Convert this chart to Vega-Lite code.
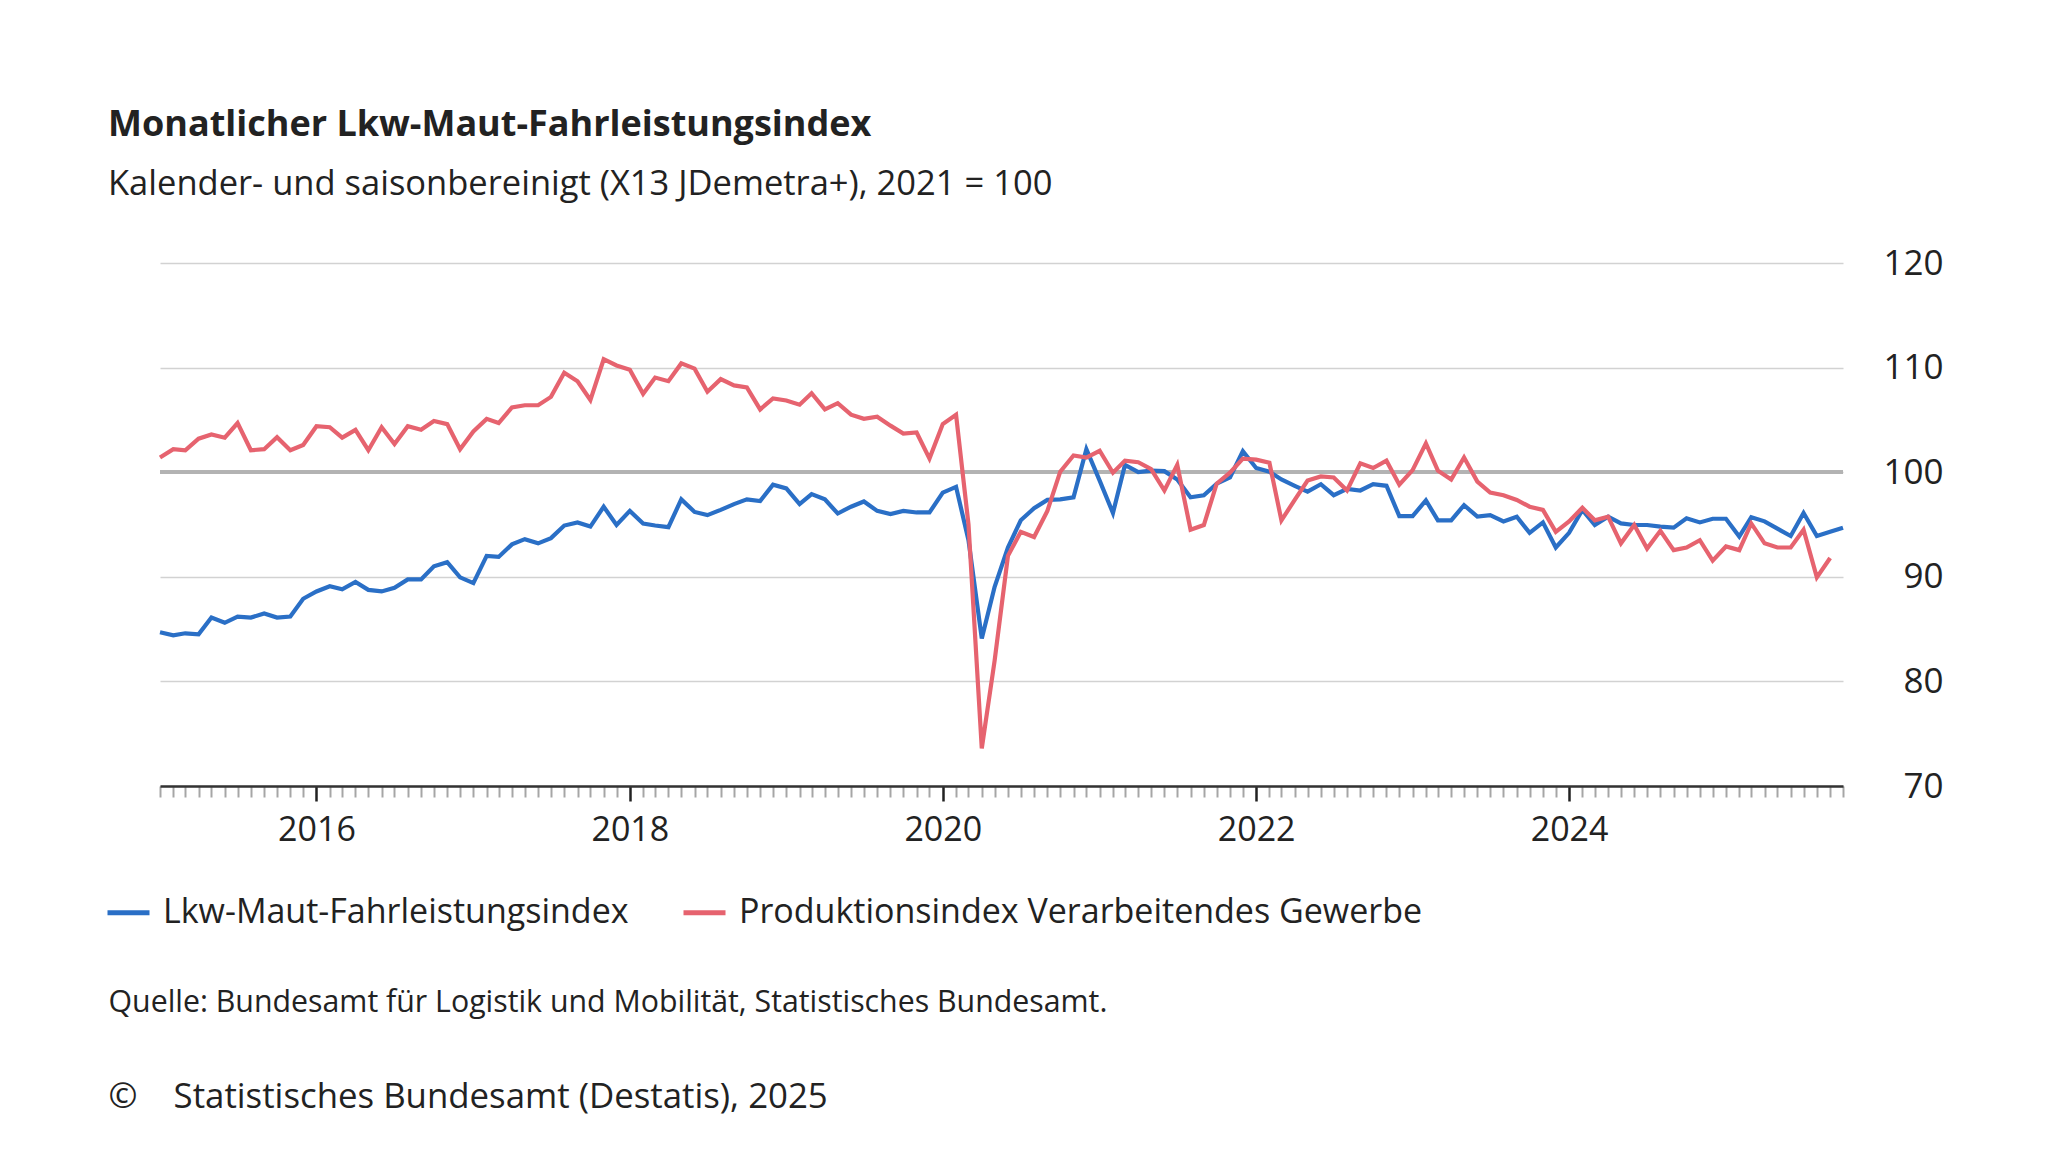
{
  "$schema": "https://vega.github.io/schema/vega-lite/v6.json",
  "width": 1683,
  "height": 523,
  "autosize": {"type": "none"},
  "padding": {"left": 160, "top": 263, "right": 205, "bottom": 366},
  "background": "white",
  "config": {"font": "Open Sans", "view": {"stroke": null}},
  "title": {
    "text": "Monatlicher Lkw-Maut-Fahrleistungsindex",
    "subtitle": "Kalender- und saisonbereinigt (X13 JDemetra+), 2021 = 100",
    "anchor": "start", "frame": "group", "dx": -52, "offset": 44,
    "font": "Open Sans", "fontSize": 36, "fontWeight": "bold", "color": "#222222",
    "subtitleFont": "Open Sans", "subtitleFontSize": 34.5, "subtitleColor": "#222222", "subtitlePadding": 24
  },
  "data": {"values": [
    {"Monat": "2015-01-01", "Lkw": 84.7, "Prod": 101.4},
    {"Monat": "2015-02-01", "Lkw": 84.4, "Prod": 102.2},
    {"Monat": "2015-03-01", "Lkw": 84.6, "Prod": 102.1},
    {"Monat": "2015-04-01", "Lkw": 84.5, "Prod": 103.2},
    {"Monat": "2015-05-01", "Lkw": 86.1, "Prod": 103.6},
    {"Monat": "2015-06-01", "Lkw": 85.6, "Prod": 103.3},
    {"Monat": "2015-07-01", "Lkw": 86.2, "Prod": 104.7},
    {"Monat": "2015-08-01", "Lkw": 86.1, "Prod": 102.1},
    {"Monat": "2015-09-01", "Lkw": 86.5, "Prod": 102.2},
    {"Monat": "2015-10-01", "Lkw": 86.1, "Prod": 103.35},
    {"Monat": "2015-11-01", "Lkw": 86.2, "Prod": 102.1},
    {"Monat": "2015-12-01", "Lkw": 87.9, "Prod": 102.6},
    {"Monat": "2016-01-01", "Lkw": 88.6, "Prod": 104.4},
    {"Monat": "2016-02-01", "Lkw": 89.1, "Prod": 104.3},
    {"Monat": "2016-03-01", "Lkw": 88.8, "Prod": 103.3},
    {"Monat": "2016-04-01", "Lkw": 89.5, "Prod": 104.05},
    {"Monat": "2016-05-01", "Lkw": 88.75, "Prod": 102.1},
    {"Monat": "2016-06-01", "Lkw": 88.6, "Prod": 104.3},
    {"Monat": "2016-07-01", "Lkw": 88.95, "Prod": 102.7},
    {"Monat": "2016-08-01", "Lkw": 89.75, "Prod": 104.4},
    {"Monat": "2016-09-01", "Lkw": 89.75, "Prod": 104.05},
    {"Monat": "2016-10-01", "Lkw": 91.0, "Prod": 104.9},
    {"Monat": "2016-11-01", "Lkw": 91.4, "Prod": 104.6},
    {"Monat": "2016-12-01", "Lkw": 89.95, "Prod": 102.2},
    {"Monat": "2017-01-01", "Lkw": 89.4, "Prod": 103.9},
    {"Monat": "2017-02-01", "Lkw": 92.0, "Prod": 105.1},
    {"Monat": "2017-03-01", "Lkw": 91.9, "Prod": 104.7},
    {"Monat": "2017-04-01", "Lkw": 93.1, "Prod": 106.2},
    {"Monat": "2017-05-01", "Lkw": 93.6, "Prod": 106.4},
    {"Monat": "2017-06-01", "Lkw": 93.2, "Prod": 106.4},
    {"Monat": "2017-07-01", "Lkw": 93.7, "Prod": 107.2},
    {"Monat": "2017-08-01", "Lkw": 94.9, "Prod": 109.5},
    {"Monat": "2017-09-01", "Lkw": 95.2, "Prod": 108.7},
    {"Monat": "2017-10-01", "Lkw": 94.8, "Prod": 106.9},
    {"Monat": "2017-11-01", "Lkw": 96.7, "Prod": 110.8},
    {"Monat": "2017-12-01", "Lkw": 94.95, "Prod": 110.2},
    {"Monat": "2018-01-01", "Lkw": 96.3, "Prod": 109.8},
    {"Monat": "2018-02-01", "Lkw": 95.1, "Prod": 107.5},
    {"Monat": "2018-03-01", "Lkw": 94.9, "Prod": 109.05},
    {"Monat": "2018-04-01", "Lkw": 94.75, "Prod": 108.7},
    {"Monat": "2018-05-01", "Lkw": 97.4, "Prod": 110.4},
    {"Monat": "2018-06-01", "Lkw": 96.2, "Prod": 109.9},
    {"Monat": "2018-07-01", "Lkw": 95.9, "Prod": 107.7},
    {"Monat": "2018-08-01", "Lkw": 96.4, "Prod": 108.9},
    {"Monat": "2018-09-01", "Lkw": 96.95, "Prod": 108.3},
    {"Monat": "2018-10-01", "Lkw": 97.4, "Prod": 108.1},
    {"Monat": "2018-11-01", "Lkw": 97.25, "Prod": 106.0},
    {"Monat": "2018-12-01", "Lkw": 98.8, "Prod": 107.05},
    {"Monat": "2019-01-01", "Lkw": 98.45, "Prod": 106.85},
    {"Monat": "2019-02-01", "Lkw": 96.95, "Prod": 106.45},
    {"Monat": "2019-03-01", "Lkw": 97.9, "Prod": 107.55},
    {"Monat": "2019-04-01", "Lkw": 97.4, "Prod": 106.0},
    {"Monat": "2019-05-01", "Lkw": 96.05, "Prod": 106.6},
    {"Monat": "2019-06-01", "Lkw": 96.7, "Prod": 105.5},
    {"Monat": "2019-07-01", "Lkw": 97.2, "Prod": 105.1},
    {"Monat": "2019-08-01", "Lkw": 96.3, "Prod": 105.3},
    {"Monat": "2019-09-01", "Lkw": 96.0, "Prod": 104.45},
    {"Monat": "2019-10-01", "Lkw": 96.3, "Prod": 103.7},
    {"Monat": "2019-11-01", "Lkw": 96.15, "Prod": 103.8},
    {"Monat": "2019-12-01", "Lkw": 96.15, "Prod": 101.3},
    {"Monat": "2020-01-01", "Lkw": 98.05, "Prod": 104.6},
    {"Monat": "2020-02-01", "Lkw": 98.6, "Prod": 105.5},
    {"Monat": "2020-03-01", "Lkw": 93.5, "Prod": 95.0},
    {"Monat": "2020-04-01", "Lkw": 84.1, "Prod": 73.6},
    {"Monat": "2020-05-01", "Lkw": 89.05, "Prod": 82.0},
    {"Monat": "2020-06-01", "Lkw": 92.8, "Prod": 92.0},
    {"Monat": "2020-07-01", "Lkw": 95.4, "Prod": 94.3},
    {"Monat": "2020-08-01", "Lkw": 96.55, "Prod": 93.8},
    {"Monat": "2020-09-01", "Lkw": 97.35, "Prod": 96.3},
    {"Monat": "2020-10-01", "Lkw": 97.4, "Prod": 100.05},
    {"Monat": "2020-11-01", "Lkw": 97.6, "Prod": 101.6},
    {"Monat": "2020-12-01", "Lkw": 102.2, "Prod": 101.4},
    {"Monat": "2021-01-01", "Lkw": 99.2, "Prod": 102.05},
    {"Monat": "2021-02-01", "Lkw": 96.1, "Prod": 99.95},
    {"Monat": "2021-03-01", "Lkw": 100.7, "Prod": 101.1},
    {"Monat": "2021-04-01", "Lkw": 100.0, "Prod": 100.95},
    {"Monat": "2021-05-01", "Lkw": 100.15, "Prod": 100.3},
    {"Monat": "2021-06-01", "Lkw": 100.1, "Prod": 98.25},
    {"Monat": "2021-07-01", "Lkw": 99.3, "Prod": 100.7},
    {"Monat": "2021-08-01", "Lkw": 97.6, "Prod": 94.5},
    {"Monat": "2021-09-01", "Lkw": 97.8, "Prod": 94.95},
    {"Monat": "2021-10-01", "Lkw": 98.9, "Prod": 98.9},
    {"Monat": "2021-11-01", "Lkw": 99.5, "Prod": 99.95},
    {"Monat": "2021-12-01", "Lkw": 102.0, "Prod": 101.3},
    {"Monat": "2022-01-01", "Lkw": 100.4, "Prod": 101.2},
    {"Monat": "2022-02-01", "Lkw": 100.05, "Prod": 100.9},
    {"Monat": "2022-03-01", "Lkw": 99.3, "Prod": 95.4},
    {"Monat": "2022-04-01", "Lkw": 98.7, "Prod": 97.35},
    {"Monat": "2022-05-01", "Lkw": 98.15, "Prod": 99.2},
    {"Monat": "2022-06-01", "Lkw": 98.85, "Prod": 99.6},
    {"Monat": "2022-07-01", "Lkw": 97.8, "Prod": 99.5},
    {"Monat": "2022-08-01", "Lkw": 98.4, "Prod": 98.25},
    {"Monat": "2022-09-01", "Lkw": 98.25, "Prod": 100.85},
    {"Monat": "2022-10-01", "Lkw": 98.85, "Prod": 100.4},
    {"Monat": "2022-11-01", "Lkw": 98.7, "Prod": 101.1},
    {"Monat": "2022-12-01", "Lkw": 95.8, "Prod": 98.8},
    {"Monat": "2023-01-01", "Lkw": 95.8, "Prod": 100.2},
    {"Monat": "2023-02-01", "Lkw": 97.3, "Prod": 102.75},
    {"Monat": "2023-03-01", "Lkw": 95.4, "Prod": 100.15},
    {"Monat": "2023-04-01", "Lkw": 95.4, "Prod": 99.3},
    {"Monat": "2023-05-01", "Lkw": 96.85, "Prod": 101.4},
    {"Monat": "2023-06-01", "Lkw": 95.75, "Prod": 99.1},
    {"Monat": "2023-07-01", "Lkw": 95.9, "Prod": 98.05},
    {"Monat": "2023-08-01", "Lkw": 95.3, "Prod": 97.8},
    {"Monat": "2023-09-01", "Lkw": 95.75, "Prod": 97.35},
    {"Monat": "2023-10-01", "Lkw": 94.2, "Prod": 96.7},
    {"Monat": "2023-11-01", "Lkw": 95.2, "Prod": 96.4},
    {"Monat": "2023-12-01", "Lkw": 92.8, "Prod": 94.3},
    {"Monat": "2024-01-01", "Lkw": 94.2, "Prod": 95.3},
    {"Monat": "2024-02-01", "Lkw": 96.4, "Prod": 96.6},
    {"Monat": "2024-03-01", "Lkw": 94.95, "Prod": 95.4},
    {"Monat": "2024-04-01", "Lkw": 95.75, "Prod": 95.75},
    {"Monat": "2024-05-01", "Lkw": 95.1, "Prod": 93.2},
    {"Monat": "2024-06-01", "Lkw": 94.95, "Prod": 94.95},
    {"Monat": "2024-07-01", "Lkw": 94.95, "Prod": 92.7},
    {"Monat": "2024-08-01", "Lkw": 94.8, "Prod": 94.4},
    {"Monat": "2024-09-01", "Lkw": 94.7, "Prod": 92.55},
    {"Monat": "2024-10-01", "Lkw": 95.6, "Prod": 92.8},
    {"Monat": "2024-11-01", "Lkw": 95.2, "Prod": 93.5},
    {"Monat": "2024-12-01", "Lkw": 95.55, "Prod": 91.55},
    {"Monat": "2025-01-01", "Lkw": 95.55, "Prod": 92.9},
    {"Monat": "2025-02-01", "Lkw": 93.85, "Prod": 92.55},
    {"Monat": "2025-03-01", "Lkw": 95.7, "Prod": 95.1},
    {"Monat": "2025-04-01", "Lkw": 95.3, "Prod": 93.2},
    {"Monat": "2025-05-01", "Lkw": 94.6, "Prod": 92.8},
    {"Monat": "2025-06-01", "Lkw": 93.9, "Prod": 92.8},
    {"Monat": "2025-07-01", "Lkw": 96.1, "Prod": 94.5},
    {"Monat": "2025-08-01", "Lkw": 93.9, "Prod": 89.95},
    {"Monat": "2025-09-01", "Lkw": 94.3, "Prod": 91.8},
    {"Monat": "2025-10-01", "Lkw": 94.7}
  ]},
  "transform": [
    {"fold": ["Lkw", "Prod"], "as": ["Reihe", "Wert"]},
    {"filter": "isValid(datum.Wert)"}
  ],
  "layer": [
    {
      "mark": {"type": "rule", "color": "#b3b3b3", "strokeWidth": 3},
      "encoding": {"y": {"datum": 100, "type": "quantitative"}}
    },
    {
      "mark": {"type": "line", "strokeWidth": 4.2, "strokeJoin": "miter"},
      "encoding": {
        "x": {
          "field": "Monat", "type": "temporal",
          "scale": {"type": "utc", "nice": false},
          "axis": {
            "title": "Quelle: Bundesamt für Logistik und Mobilität, Statistisches Bundesamt.",
            "titleFont": "Open Sans", "titleFontSize": 30.3, "titleFontWeight": "normal", "titleColor": "#222222",
            "titleAnchor": "start", "titleAlign": "left", "titleBaseline": "alphabetic", "titleX": -52, "titleY": 225,
            "tickCount": {"interval": "month", "step": 1},
            "grid": false,
            "domainColor": "#333333", "domainWidth": 2.5,
            "tickColor": {"condition": {"test": "utcmonth(datum.value) === 0 && utcyear(datum.value) % 2 === 0", "value": "#222222"}, "value": "#a6a6a6"},
            "tickSize": {"condition": {"test": "utcmonth(datum.value) === 0 && utcyear(datum.value) % 2 === 0", "value": 15}, "value": 11},
            "tickWidth": {"condition": {"test": "utcmonth(datum.value) === 0 && utcyear(datum.value) % 2 === 0", "value": 2.5}, "value": 2},
            "labelExpr": "utcmonth(datum.value) === 0 && utcyear(datum.value) % 2 === 0 ? utcFormat(datum.value, '%Y') : ''",
            "labelOverlap": false, "labelFlush": false, "labelBound": false,
            "labelFont": "Open Sans", "labelFontSize": 34, "labelColor": "#222222", "labelPadding": 12
          }
        },
        "y": {
          "field": "Wert", "type": "quantitative",
          "scale": {"domain": [70, 120], "nice": false, "zero": false},
          "axis": {
            "orient": "right",
            "title": "©\u00a0\u00a0\u00a0\u00a0Statistisches Bundesamt (Destatis), 2025",
            "titleAngle": 0, "titleAlign": "left", "titleBaseline": "alphabetic", "titleX": -1735, "titleY": 844,
            "titleFont": "Open Sans", "titleFontSize": 34.8, "titleFontWeight": "normal", "titleColor": "#222222",
            "values": [70, 80, 90, 100, 110, 120],
            "grid": true, "gridColor": "#d2d2d2", "gridWidth": 1.5,
            "domain": false, "ticks": false, "tickSize": 0,
            "labelAlign": "right", "labelPadding": 100,
            "labelFont": "Open Sans", "labelFontSize": 35, "labelColor": "#222222"
          }
        },
        "color": {
          "field": "Reihe", "type": "nominal",
          "scale": {"domain": ["Lkw", "Prod"], "range": ["#2a6fc6", "#e6636f"]},
          "legend": {
            "orient": "none", "legendX": -55, "legendY": 626, "direction": "horizontal", "title": null,
            "labelExpr": "datum.label === 'Lkw' ? 'Lkw-Maut-Fahrleistungsindex' : 'Produktionsindex Verarbeitendes Gewerbe'",
            "symbolType": "stroke", "symbolStrokeWidth": 5, "symbolSize": 1764,
            "labelFont": "Open Sans", "labelFontSize": 34, "labelColor": "#222222", "labelOffset": 11,
            "columnPadding": 44, "labelLimit": 1000
          }
        }
      }
    }
  ]
}
